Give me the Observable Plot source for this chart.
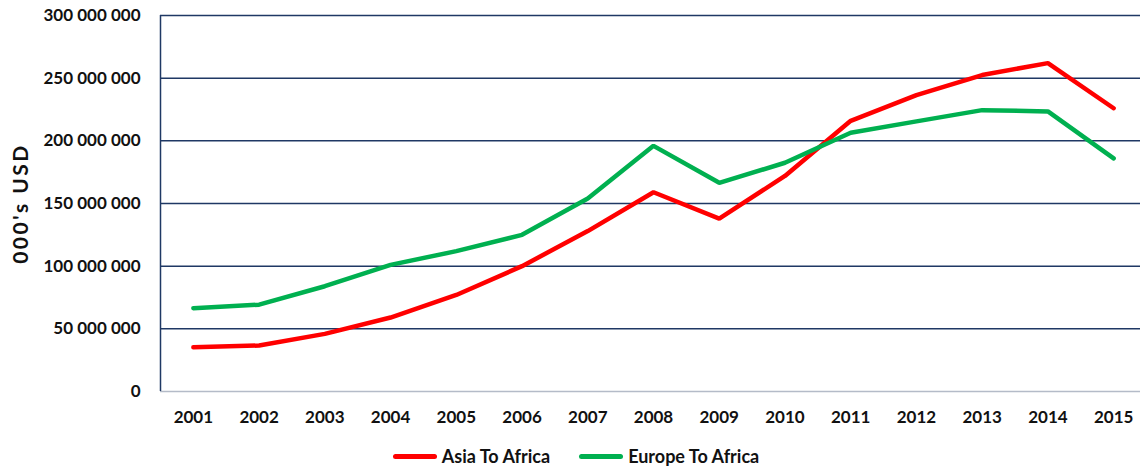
<!DOCTYPE html>
<html>
<head>
<meta charset="utf-8">
<script src="https://cdn.jsdelivr.net/npm/d3@7"></script>
<script src="https://cdn.jsdelivr.net/npm/@observablehq/plot@0.6"></script>
<style>
  html, body { margin: 0; padding: 0; background: #fff; }
  body { width: 1140px; height: 472px; overflow: hidden; font-family: Lato, "Open Sans", sans-serif; }
  #legend { height: 32px; display: flex; justify-content: center; align-items: center; gap: 29px; font-weight: bold; font-size: 18px; color: #111; padding-left: 12px; }
  .item { display: flex; align-items: center; gap: 5px; }
  .sw { width: 44px; height: 5px; border-radius: 3px; display: inline-block; }
</style>
</head>
<body>
<div id="chart"></div>
<div id="legend"></div>
<script>
const years = [2001,2002,2003,2004,2005,2006,2007,2008,2009,2010,2011,2012,2013,2014,2015];
const asiaToAfrica = [35.3e6,36.7e6,46e6,59e6,77e6,100e6,128e6,159e6,138e6,172e6,216e6,236.5e6,252.5e6,262e6,226e6];
const europeToAfrica = [66.5e6,69.3e6,84e6,101e6,112e6,125e6,154e6,196e6,166.5e6,182.5e6,206.5e6,215.5e6,224.5e6,223.5e6,186e6];
const yTicks = [0,50e6,100e6,150e6,200e6,250e6,300e6];
const seriesNames = ["Asia To Africa", "Europe To Africa"];
const seriesColors = ["#FF0000", "#00B050"];

const data = [];
years.forEach((y, i) => {
  data.push({year: y, value: asiaToAfrica[i], series: seriesNames[0]});
  data.push({year: y, value: europeToAfrica[i], series: seriesNames[1]});
});

const fmt = v => d3.format(",")(v).replace(/,/g, " ");

const chart = Plot.plot({
  width: 1140,
  height: 440,
  marginTop: 15,
  marginBottom: 49,
  marginLeft: 160,
  marginRight: 0,
  style: {fontFamily: "Lato, 'Open Sans', sans-serif", fontWeight: "bold", fontSize: "17px", color: "#111", background: "#fff"},
  x: {type: "linear", domain: [2000.5, 2015.5], range: [160, 1146]},
  y: {domain: [0, 300e6]},
  color: {domain: seriesNames, range: seriesColors},
  marks: [
    Plot.ruleY(yTicks.filter(d => d > 0), {stroke: "#1F3864", strokeWidth: 1.5}),
    Plot.ruleY([0], {stroke: "#B4BBC8", strokeWidth: 1.5}),
    Plot.ruleX([2000.5], {stroke: "#1F3864", strokeWidth: 1.5}),
    Plot.line(data, {x: "year", y: "value", z: "series", stroke: "series", strokeWidth: 4.5, strokeLinejoin: "miter", strokeLinecap: "round"}),
    Plot.axisX({ticks: years, tickFormat: d => String(d), tickSize: 0, tickPadding: 19, label: null, fontSize: 17}),
    Plot.axisY({ticks: yTicks, tickFormat: fmt, tickSize: 0, tickPadding: 20, label: "000's USD", labelAnchor: "center", labelArrow: "none", labelOffset: 147, fontSize: 17})
  ]
});
chart.querySelectorAll("g[aria-label='y-axis label'] text").forEach(t => { t.setAttribute("font-size", "21px"); t.setAttribute("letter-spacing", "2.5px"); });
document.getElementById("chart").appendChild(chart);

const legend = document.getElementById("legend");
seriesNames.forEach((n, i) => {
  const it = document.createElement("span");
  it.className = "item";
  const sw = document.createElement("span");
  sw.className = "sw";
  sw.style.background = seriesColors[i];
  const tx = document.createElement("span");
  tx.textContent = n;
  it.appendChild(sw); it.appendChild(tx);
  legend.appendChild(it);
});
</script>
</body>
</html>
